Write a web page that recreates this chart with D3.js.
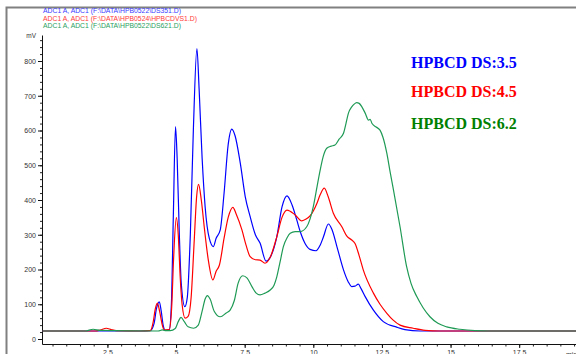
<!DOCTYPE html>
<html>
<head>
<meta charset="utf-8">
<script src="https://cdn.jsdelivr.net/npm/d3@7"></script>
<style>
  body { margin: 0; background: #fff; }
  svg { display: block; }
</style>
</head>
<body>
<div class="chart-container"></div>
<script>
// run titles (header lines)
const runTitles = [
  'ADC1 A, ADC1 (F:\\DATA\\HPB0522\\DS351.D)',
  'ADC1 A, ADC1 (F:\\DATA\\HPB0524\\HPBCDVS1.D)',
  'ADC1 A, ADC1 (F:\\DATA\\HPB0522\\DS621.D)'
];
const seriesNames = ['HPBCD DS:3.5', 'HPBCD DS:4.5', 'HPBCD DS:6.2'];

const yMajorTicks = [0, 100, 200, 300, 400, 500, 600, 700, 800];
const xMajorTicks = [2.5, 5, 7.5, 10, 12.5, 15, 17.5];
const xTickLabels = ['2.5', '5', '7.5', '10', '12.5', '15', '17.5'];

// [time (min), signal (mV)]
const ds35 = [
  [0.1, 23], [3.7, 23], [4.06, 24], [4.2, 45], [4.28, 85], [4.39, 107], [4.46, 80],
  [4.53, 40], [4.61, 25], [4.75, 26], [4.83, 100], [4.9, 350], [4.98, 611],
  [5.04, 520], [5.12, 300], [5.19, 160], [5.32, 93], [5.41, 120], [5.52, 300],
  [5.63, 600], [5.76, 836], [5.84, 720], [5.95, 520], [6.06, 380], [6.21, 290],
  [6.36, 266], [6.46, 290], [6.61, 314], [6.75, 420], [6.9, 560], [7.03, 604],
  [7.15, 585], [7.34, 506], [7.52, 410], [7.7, 352], [7.89, 300], [8.06, 276],
  [8.28, 224], [8.43, 235], [8.67, 294], [8.86, 380], [9.04, 412], [9.23, 385],
  [9.4, 342], [9.52, 310], [9.7, 275], [9.88, 258], [10.1, 254], [10.25, 270],
  [10.37, 294], [10.55, 331], [10.68, 315], [10.86, 266], [11.1, 199], [11.27, 165],
  [11.4, 151], [11.52, 152], [11.64, 158], [11.74, 145], [11.89, 122], [12.19, 83],
  [12.55, 50], [13.04, 34], [13.34, 27], [13.89, 23], [19.6, 23]
];
const ds45 = [
  [0.1, 23], [2.06, 23], [2.24, 26], [2.46, 31], [2.64, 27], [2.82, 24], [3.69, 23],
  [4.06, 24], [4.17, 50], [4.24, 85], [4.32, 103], [4.4, 80], [4.5, 40], [4.57, 26],
  [4.75, 27], [4.84, 90], [4.91, 230], [5.01, 349], [5.08, 300], [5.15, 180],
  [5.22, 100], [5.33, 60], [5.44, 65], [5.55, 120], [5.66, 280], [5.75, 410],
  [5.82, 445], [5.92, 400], [6.03, 320], [6.17, 230], [6.34, 170], [6.46, 195],
  [6.58, 213], [6.75, 290], [6.9, 350], [7.07, 379], [7.19, 360], [7.4, 314],
  [7.55, 270], [7.7, 237], [7.89, 228], [8.06, 227], [8.24, 218], [8.43, 235],
  [8.67, 294], [8.86, 350], [9.04, 371], [9.34, 357], [9.58, 340], [9.74, 345],
  [9.88, 354], [10.13, 390], [10.25, 415], [10.4, 434], [10.54, 410], [10.73, 362],
  [11.04, 323], [11.23, 295], [11.4, 285], [11.52, 275], [11.67, 240], [11.82, 199],
  [12.19, 132], [12.43, 100], [12.68, 74], [12.9, 55], [13.16, 40], [13.64, 31],
  [14.07, 25], [14.62, 23], [19.6, 23]
];
const ds62 = [
  [0.1, 23], [1.69, 23], [1.98, 28], [2.24, 25], [4.35, 23], [4.5, 26], [4.64, 24],
  [4.79, 24], [4.97, 30], [5.08, 50], [5.18, 62], [5.3, 50], [5.44, 35], [5.64, 31],
  [5.81, 40], [5.95, 80], [6.06, 115], [6.14, 125], [6.24, 115], [6.39, 80],
  [6.61, 64], [6.83, 75], [6.97, 83], [7.12, 110], [7.26, 160], [7.43, 182],
  [7.59, 175], [7.77, 150], [7.92, 132], [8.06, 127], [8.24, 132], [8.43, 141],
  [8.57, 155], [8.67, 179], [8.79, 222], [8.91, 266], [9.05, 292], [9.16, 304],
  [9.34, 309], [9.52, 309], [9.76, 323], [9.88, 345], [10.0, 381], [10.14, 440],
  [10.25, 486], [10.36, 525], [10.49, 549], [10.65, 555], [10.79, 558], [10.94, 575],
  [11.1, 592], [11.19, 620], [11.28, 650], [11.4, 668], [11.49, 676], [11.58, 680],
  [11.67, 678], [11.77, 668], [11.89, 650], [12.01, 630], [12.07, 632], [12.14, 620],
  [12.29, 610], [12.43, 601], [12.54, 580], [12.68, 534], [12.8, 480], [12.92, 429],
  [13.16, 323], [13.4, 208], [13.56, 160], [13.77, 122], [14.0, 90], [14.25, 64],
  [14.54, 45], [14.86, 35], [15.34, 28], [15.89, 24], [16.44, 23], [19.6, 23]
];

const traces = [ds35, ds45, ds62];
const traceColors = ['#0000ff', '#ff0000', '#1f9a55'];
const titleColors = ['#3a3aff', '#ff3a3a', '#2aa060'];
const labelColors = ['#0000ff', '#ff0000', '#008000'];

const width = 576;
const height = 354;

const svg = d3.select('.chart-container')
  .append('svg')
  .attr('width', width)
  .attr('height', height)
  .style('font-family', 'Arial, "Liberation Sans", sans-serif');

// outer frame of the printout
svg.append('rect')
  .attr('x', 6.5)
  .attr('y', 7.5)
  .attr('width', 640)
  .attr('height', 400)
  .attr('fill', 'none')
  .attr('stroke', '#808080')
  .attr('stroke-width', 2);

// header with data file names (printer font is wider than Arial)
svg.selectAll('text.run-title')
  .data(runTitles)
  .enter()
  .append('text')
  .attr('class', 'run-title')
  .attr('x', 43)
  .attr('y', (d, i) => 13 + i * 7.6)
  .attr('font-size', 7)
  .attr('textLength', (d, i) => [138, 154, 138][i])
  .attr('lengthAdjust', 'spacingAndGlyphs')
  .attr('fill', (d, i) => titleColors[i])
  .text(d => d);

const plotLeft = 42;
const plotBottom = 344;
const plotTop = 35;

const x = d3.scaleLinear()
  .domain([(plotLeft - 38.8) / 27.45, (width - 38.8) / 27.45])
  .range([plotLeft, width]);

const y = d3.scaleLinear()
  .domain([(339 - plotBottom) / 0.3475, (339 - plotTop) / 0.3475])
  .range([plotBottom, plotTop]);

// minor ticks
svg.append('g')
  .attr('transform', `translate(${plotLeft},0)`)
  .call(d3.axisLeft(y).tickValues(d3.range(0, 880, 20)).tickSize(2).tickSizeOuter(0).tickFormat(''))
  .call(g => g.select('.domain').remove())
  .call(g => g.selectAll('line').attr('stroke', '#222'));

svg.append('g')
  .attr('transform', `translate(0,${plotBottom})`)
  .call(d3.axisBottom(x).tickValues(d3.range(0.5, 19.6, 0.5)).tickSize(2.5).tickSizeOuter(0).tickFormat(''))
  .call(g => g.select('.domain').remove())
  .call(g => g.selectAll('line').attr('stroke', '#222'));

// major ticks + axis lines
svg.append('g')
  .attr('transform', `translate(${plotLeft},0)`)
  .call(d3.axisLeft(y).tickValues(yMajorTicks).tickSize(4).tickSizeOuter(0).tickPadding(2))
  .call(g => g.selectAll('text').attr('font-size', 7).attr('fill', '#333').attr('font-family', null))
  .call(g => g.selectAll('line, .domain').attr('stroke', '#111'));

svg.append('g')
  .attr('transform', `translate(0,${plotBottom})`)
  .call(d3.axisBottom(x).tickValues(xMajorTicks).tickSize(4).tickSizeOuter(0).tickPadding(2)
    .tickFormat((d, i) => xTickLabels[i]))
  .call(g => g.selectAll('text').attr('font-size', 7).attr('fill', '#333').attr('font-family', null))
  .call(g => g.selectAll('line, .domain').attr('stroke', '#111'));

svg.append('text')
  .attr('x', 36)
  .attr('y', 38)
  .attr('text-anchor', 'end')
  .attr('font-size', 6.5)
  .attr('fill', '#333')
  .text('mV');

svg.append('text')
  .attr('x', 566)
  .attr('y', 357)
  .attr('font-size', 7)
  .attr('fill', '#333')
  .text('min');

svg.append('clipPath')
  .attr('id', 'plot-clip')
  .append('rect')
  .attr('x', plotLeft + 0.5)
  .attr('y', plotTop)
  .attr('width', width - plotLeft)
  .attr('height', plotBottom - plotTop - 0.5);

const line = d3.line()
  .x(d => x(d[0]))
  .y(d => y(d[1]))
  .curve(d3.curveMonotoneX);

svg.append('g')
  .attr('clip-path', 'url(#plot-clip)')
  .selectAll('path')
  .data(traces)
  .enter()
  .append('path')
  .attr('d', line)
  .attr('fill', 'none')
  .attr('stroke', (d, i) => traceColors[i])
  .attr('stroke-width', 1.2)
  .attr('stroke-linejoin', 'round');

// series labels
svg.selectAll('text.series-label')
  .data(seriesNames)
  .enter()
  .append('text')
  .attr('class', 'series-label')
  .attr('x', 411)
  .attr('y', (d, i) => [68, 97, 129][i])
  .attr('font-family', '"Liberation Serif", "Times New Roman", serif')
  .attr('font-weight', 'bold')
  .attr('font-size', 16)
  .attr('fill', (d, i) => labelColors[i])
  .text(d => d);
</script>
</body>
</html>
